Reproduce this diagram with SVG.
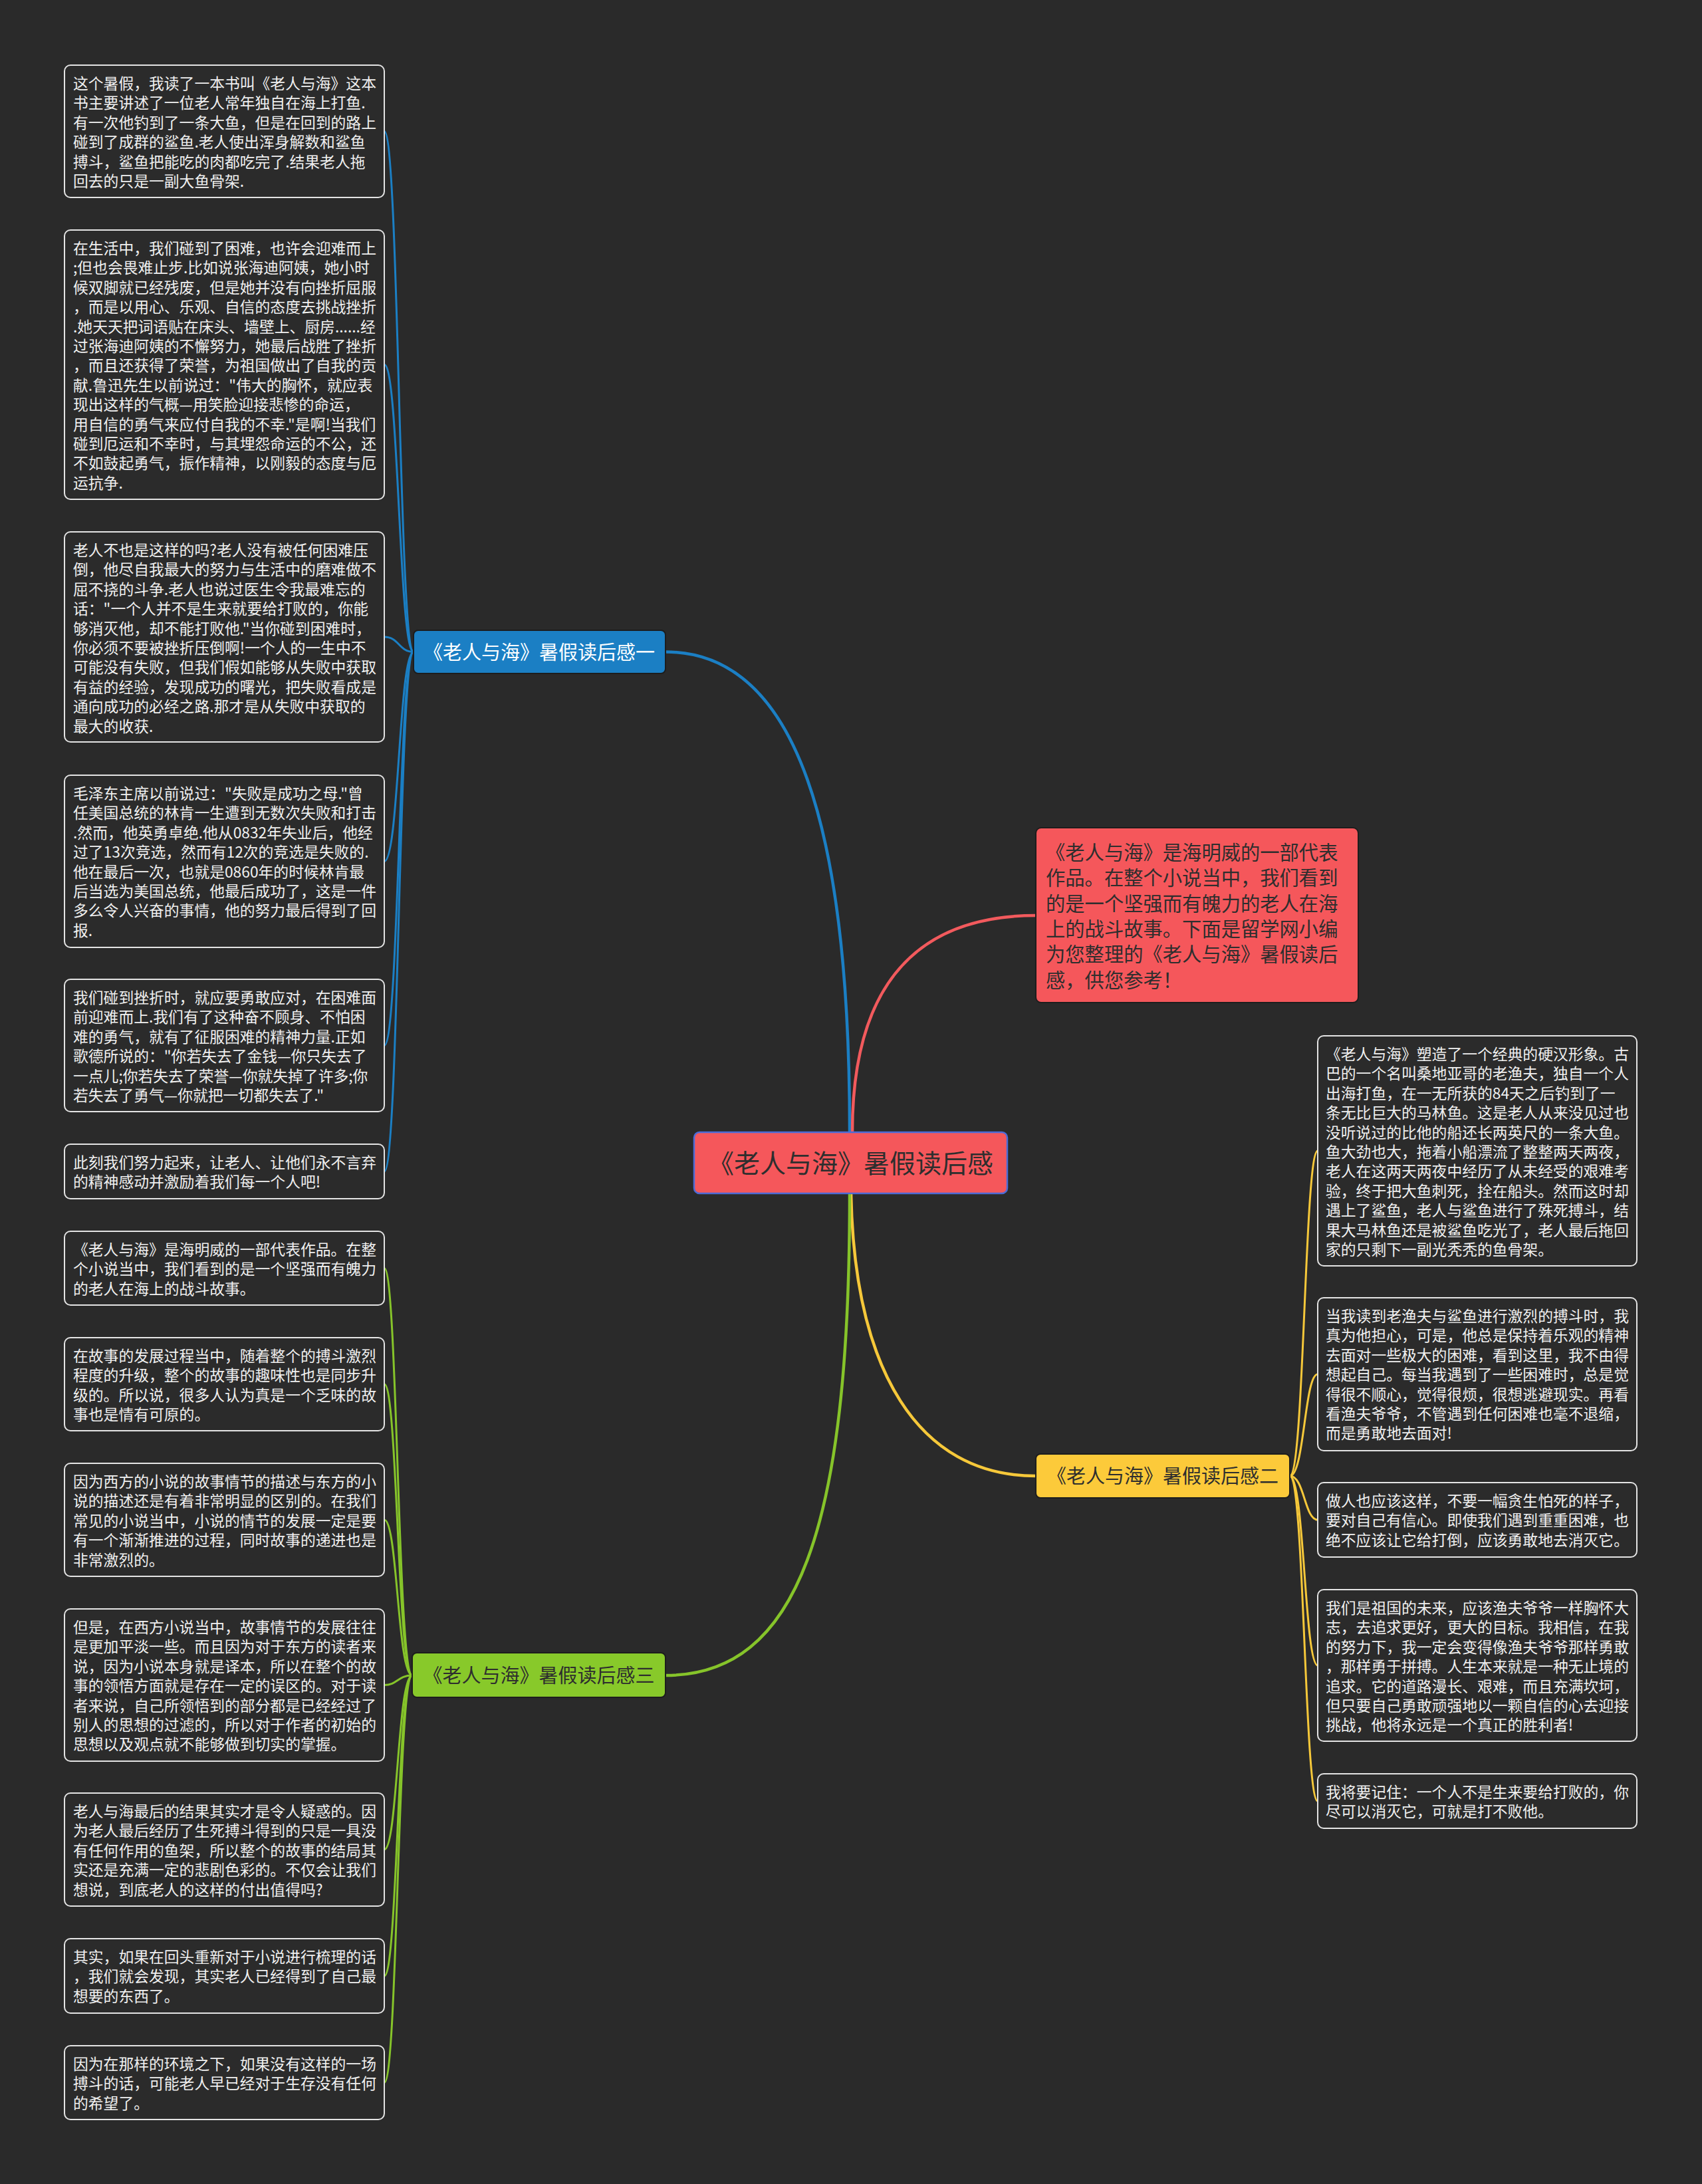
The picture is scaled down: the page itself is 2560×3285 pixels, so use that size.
<svg xmlns="http://www.w3.org/2000/svg" width="2560" height="3285" viewBox="0 0 2560 3285">
<style>
.leaf rect{fill:#2b2b2b;stroke:#e4e4e4;stroke-width:2}
.leaf text{font-family:"Noto Sans CJK SC","Noto Sans",sans-serif;font-size:22.8px;fill:#f0f0f0}
.br text{font-family:"Noto Sans CJK SC","Noto Sans",sans-serif;font-size:29px;text-anchor:middle}
.br rect{stroke:#1d1d1d;stroke-width:2}
.c path{fill:none;stroke-linecap:round}
.cb{stroke:#1b7fc4}
.cr{stroke:#f25a5d}
.cy{stroke:#f6c83a}
.cg{stroke:#86c42a}
.thin{stroke-width:3}
.thick{stroke-width:4.5}
</style>
<rect x="0" y="0" width="2560" height="3285" fill="#2a2a2a"/>

<g id="connectors" class="c">
<path class="cb thick" d="M1278,1703 C1278,1250 1200,980.5 1001,980.5"/>
<path class="cr thick" d="M1282,1703 C1282,1480 1380,1377 1558,1377"/>
<path class="cy thick" d="M1280,1795 C1285,2060 1380,2220 1558,2220"/>
<path class="cg thick" d="M1278,1795 C1278,2300 1200,2520 1001,2520"/>
<path class="cb thin" d="M622,980.5 C600,980.5 600,197.5 578,197.5"/>
<path class="cb thin" d="M622,980.5 C600,980.5 600,548.5 578,548.5"/>
<path class="cb thin" d="M622,980.5 C600,980.5 600,958 578,958"/>
<path class="cb thin" d="M622,980.5 C600,980.5 600,1295.5 578,1295.5"/>
<path class="cb thin" d="M622,980.5 C600,980.5 600,1572.5 578,1572.5"/>
<path class="cb thin" d="M622,980.5 C600,980.5 600,1762 578,1762"/>
<path class="cg thin" d="M620,2520 C598,2520 598,1907.5 578,1907.5"/>
<path class="cg thin" d="M620,2520 C598,2520 598,2082 578,2082"/>
<path class="cg thin" d="M620,2520 C598,2520 598,2286 578,2286"/>
<path class="cg thin" d="M620,2520 C598,2520 598,2534.5 578,2534.5"/>
<path class="cg thin" d="M620,2520 C598,2520 598,2782 578,2782"/>
<path class="cg thin" d="M620,2520 C598,2520 598,2972 578,2972"/>
<path class="cg thin" d="M620,2520 C598,2520 598,3132.5 578,3132.5"/>
<path class="cy thin" d="M1940,2220 C1962,2220 1962,1731 1982,1731"/>
<path class="cy thin" d="M1940,2220 C1962,2220 1962,2067 1982,2067"/>
<path class="cy thin" d="M1940,2220 C1962,2220 1962,2286 1982,2286"/>
<path class="cy thin" d="M1940,2220 C1962,2220 1962,2505 1982,2505"/>
<path class="cy thin" d="M1940,2220 C1962,2220 1962,2709 1982,2709"/>
</g>

<g id="root">
<rect x="1044" y="1703" width="471" height="92" rx="8" fill="#f5575b" stroke="#4d6bd6" stroke-width="2.5"/>
<text x="1279.5" y="1764" font-family="Noto Sans CJK SC, Noto Sans, sans-serif" font-size="39" fill="#2e2e2e" text-anchor="middle">《老人与海》暑假读后感</text>
</g>

<g id="intro">
<rect x="1558" y="1245" width="485" height="263" rx="8" fill="#f5575b" stroke="#1d1d1d" stroke-width="2"/>
<text font-family="Noto Sans CJK SC, Noto Sans, sans-serif" font-size="29.3" fill="#2e2e2e">
<tspan x="1573" y="1293">《老人与海》是海明威的一部代表</tspan>
<tspan x="1573" dy="38.3">作品。在整个小说当中，我们看到</tspan>
<tspan x="1573" dy="38.3">的是一个坚强而有魄力的老人在海</tspan>
<tspan x="1573" dy="38.3">上的战斗故事。下面是留学网小编</tspan>
<tspan x="1573" dy="38.3">为您整理的《老人与海》暑假读后</tspan>
<tspan x="1573" dy="38.3">感，供您参考！</tspan>
</text>
</g>

<g id="branch1" class="br">
<rect x="622" y="948" width="379" height="65" rx="7" fill="#1b7fc4"/>
<text x="811" y="991.5" fill="#ffffff">《老人与海》暑假读后感一</text>
</g>
<g id="branch2" class="br">
<rect x="1558" y="2187" width="382" height="66" rx="7" fill="#fcca3a"/>
<text x="1749" y="2231" fill="#2e2e2e">《老人与海》暑假读后感二</text>
</g>
<g id="branch3" class="br">
<rect x="620" y="2486" width="381" height="67" rx="7" fill="#88c92a"/>
<text x="810.5" y="2530.5" fill="#2e2e2e">《老人与海》暑假读后感三</text>
</g>

<g id="l1" class="leaf">
<rect x="97" y="98" width="481" height="199" rx="9"/>
<text><tspan x="110" y="134">这个暑假，我读了一本书叫《老人与海》这本</tspan><tspan x="110" dy="29.4">书主要讲述了一位老人常年独自在海上打鱼.</tspan><tspan x="110" dy="29.4">有一次他钓到了一条大鱼，但是在回到的路上</tspan><tspan x="110" dy="29.4">碰到了成群的鲨鱼.老人使出浑身解数和鲨鱼</tspan><tspan x="110" dy="29.4">搏斗，鲨鱼把能吃的肉都吃完了.结果老人拖</tspan><tspan x="110" dy="29.4">回去的只是一副大鱼骨架.</tspan></text>
</g>
<g id="l2" class="leaf">
<rect x="97" y="346" width="481" height="405" rx="9"/>
<text><tspan x="110" y="382">在生活中，我们碰到了困难，也许会迎难而上</tspan><tspan x="110" dy="29.4">;但也会畏难止步.比如说张海迪阿姨，她小时</tspan><tspan x="110" dy="29.4">候双脚就已经残废，但是她并没有向挫折屈服</tspan><tspan x="110" dy="29.4">，而是以用心、乐观、自信的态度去挑战挫折</tspan><tspan x="110" dy="29.4">.她天天把词语贴在床头、墙壁上、厨房......经</tspan><tspan x="110" dy="29.4">过张海迪阿姨的不懈努力，她最后战胜了挫折</tspan><tspan x="110" dy="29.4">，而且还获得了荣誉，为祖国做出了自我的贡</tspan><tspan x="110" dy="29.4">献.鲁迅先生以前说过："伟大的胸怀，就应表</tspan><tspan x="110" dy="29.4">现出这样的气概—用笑脸迎接悲惨的命运，</tspan><tspan x="110" dy="29.4">用自信的勇气来应付自我的不幸."是啊!当我们</tspan><tspan x="110" dy="29.4">碰到厄运和不幸时，与其埋怨命运的不公，还</tspan><tspan x="110" dy="29.4">不如鼓起勇气，振作精神，以刚毅的态度与厄</tspan><tspan x="110" dy="29.4">运抗争.</tspan></text>
</g>
<g id="l3" class="leaf">
<rect x="97" y="800" width="481" height="316" rx="9"/>
<text><tspan x="110" y="836">老人不也是这样的吗?老人没有被任何困难压</tspan><tspan x="110" dy="29.4">倒，他尽自我最大的努力与生活中的磨难做不</tspan><tspan x="110" dy="29.4">屈不挠的斗争.老人也说过医生令我最难忘的</tspan><tspan x="110" dy="29.4">话："一个人并不是生来就要给打败的，你能</tspan><tspan x="110" dy="29.4">够消灭他，却不能打败他."当你碰到困难时，</tspan><tspan x="110" dy="29.4">你必须不要被挫折压倒啊!一个人的一生中不</tspan><tspan x="110" dy="29.4">可能没有失败，但我们假如能够从失败中获取</tspan><tspan x="110" dy="29.4">有益的经验，发现成功的曙光，把失败看成是</tspan><tspan x="110" dy="29.4">通向成功的必经之路.那才是从失败中获取的</tspan><tspan x="110" dy="29.4">最大的收获.</tspan></text>
</g>
<g id="l4" class="leaf">
<rect x="97" y="1166" width="481" height="259" rx="9"/>
<text><tspan x="110" y="1202">毛泽东主席以前说过："失败是成功之母."曾</tspan><tspan x="110" dy="29.4">任美国总统的林肯一生遭到无数次失败和打击</tspan><tspan x="110" dy="29.4">.然而，他英勇卓绝.他从0832年失业后，他经</tspan><tspan x="110" dy="29.4">过了13次竞选，然而有12次的竞选是失败的.</tspan><tspan x="110" dy="29.4">他在最后一次，也就是0860年的时候林肯最</tspan><tspan x="110" dy="29.4">后当选为美国总统，他最后成功了，这是一件</tspan><tspan x="110" dy="29.4">多么令人兴奋的事情，他的努力最后得到了回</tspan><tspan x="110" dy="29.4">报.</tspan></text>
</g>
<g id="l5" class="leaf">
<rect x="97" y="1473" width="481" height="199" rx="9"/>
<text><tspan x="110" y="1509">我们碰到挫折时，就应要勇敢应对，在困难面</tspan><tspan x="110" dy="29.4">前迎难而上.我们有了这种奋不顾身、不怕困</tspan><tspan x="110" dy="29.4">难的勇气，就有了征服困难的精神力量.正如</tspan><tspan x="110" dy="29.4">歌德所说的："你若失去了金钱—你只失去了</tspan><tspan x="110" dy="29.4">一点儿;你若失去了荣誉—你就失掉了许多;你</tspan><tspan x="110" dy="29.4">若失去了勇气—你就把一切都失去了."</tspan></text>
</g>
<g id="l6" class="leaf">
<rect x="97" y="1721" width="481" height="82" rx="9"/>
<text><tspan x="110" y="1757">此刻我们努力起来，让老人、让他们永不言弃</tspan><tspan x="110" dy="29.4">的精神感动并激励着我们每一个人吧!</tspan></text>
</g>
<g id="l7" class="leaf">
<rect x="97" y="1852" width="481" height="111" rx="9"/>
<text><tspan x="110" y="1888">《老人与海》是海明威的一部代表作品。在整</tspan><tspan x="110" dy="29.4">个小说当中，我们看到的是一个坚强而有魄力</tspan><tspan x="110" dy="29.4">的老人在海上的战斗故事。</tspan></text>
</g>
<g id="l8" class="leaf">
<rect x="97" y="2012" width="481" height="140" rx="9"/>
<text><tspan x="110" y="2048">在故事的发展过程当中，随着整个的搏斗激烈</tspan><tspan x="110" dy="29.4">程度的升级，整个的故事的趣味性也是同步升</tspan><tspan x="110" dy="29.4">级的。所以说，很多人认为真是一个乏味的故</tspan><tspan x="110" dy="29.4">事也是情有可原的。</tspan></text>
</g>
<g id="l9" class="leaf">
<rect x="97" y="2201" width="481" height="170" rx="9"/>
<text><tspan x="110" y="2237">因为西方的小说的故事情节的描述与东方的小</tspan><tspan x="110" dy="29.4">说的描述还是有着非常明显的区别的。在我们</tspan><tspan x="110" dy="29.4">常见的小说当中，小说的情节的发展一定是要</tspan><tspan x="110" dy="29.4">有一个渐渐推进的过程，同时故事的递进也是</tspan><tspan x="110" dy="29.4">非常激烈的。</tspan></text>
</g>
<g id="l10" class="leaf">
<rect x="97" y="2420" width="481" height="229" rx="9"/>
<text><tspan x="110" y="2456">但是，在西方小说当中，故事情节的发展往往</tspan><tspan x="110" dy="29.4">是更加平淡一些。而且因为对于东方的读者来</tspan><tspan x="110" dy="29.4">说，因为小说本身就是译本，所以在整个的故</tspan><tspan x="110" dy="29.4">事的领悟方面就是存在一定的误区的。对于读</tspan><tspan x="110" dy="29.4">者来说，自己所领悟到的部分都是已经经过了</tspan><tspan x="110" dy="29.4">别人的思想的过滤的，所以对于作者的初始的</tspan><tspan x="110" dy="29.4">思想以及观点就不能够做到切实的掌握。</tspan></text>
</g>
<g id="l11" class="leaf">
<rect x="97" y="2697" width="481" height="170" rx="9"/>
<text><tspan x="110" y="2733">老人与海最后的结果其实才是令人疑惑的。因</tspan><tspan x="110" dy="29.4">为老人最后经历了生死搏斗得到的只是一具没</tspan><tspan x="110" dy="29.4">有任何作用的鱼架，所以整个的故事的结局其</tspan><tspan x="110" dy="29.4">实还是充满一定的悲剧色彩的。不仅会让我们</tspan><tspan x="110" dy="29.4">想说，到底老人的这样的付出值得吗?</tspan></text>
</g>
<g id="l12" class="leaf">
<rect x="97" y="2916" width="481" height="112" rx="9"/>
<text><tspan x="110" y="2952">其实，如果在回头重新对于小说进行梳理的话</tspan><tspan x="110" dy="29.4">，我们就会发现，其实老人已经得到了自己最</tspan><tspan x="110" dy="29.4">想要的东西了。</tspan></text>
</g>
<g id="l13" class="leaf">
<rect x="97" y="3077" width="481" height="111" rx="9"/>
<text><tspan x="110" y="3113">因为在那样的环境之下，如果没有这样的一场</tspan><tspan x="110" dy="29.4">搏斗的话，可能老人早已经对于生存没有任何</tspan><tspan x="110" dy="29.4">的希望了。</tspan></text>
</g>

<g id="r1" class="leaf">
<rect x="1982" y="1558" width="480" height="346" rx="9"/>
<text><tspan x="1994" y="1594">《老人与海》塑造了一个经典的硬汉形象。古</tspan><tspan x="1994" dy="29.4">巴的一个名叫桑地亚哥的老渔夫，独自一个人</tspan><tspan x="1994" dy="29.4">出海打鱼，在一无所获的84天之后钓到了一</tspan><tspan x="1994" dy="29.4">条无比巨大的马林鱼。这是老人从来没见过也</tspan><tspan x="1994" dy="29.4">没听说过的比他的船还长两英尺的一条大鱼。</tspan><tspan x="1994" dy="29.4">鱼大劲也大，拖着小船漂流了整整两天两夜，</tspan><tspan x="1994" dy="29.4">老人在这两天两夜中经历了从未经受的艰难考</tspan><tspan x="1994" dy="29.4">验，终于把大鱼刺死，拴在船头。然而这时却</tspan><tspan x="1994" dy="29.4">遇上了鲨鱼，老人与鲨鱼进行了殊死搏斗，结</tspan><tspan x="1994" dy="29.4">果大马林鱼还是被鲨鱼吃光了，老人最后拖回</tspan><tspan x="1994" dy="29.4">家的只剩下一副光秃秃的鱼骨架。</tspan></text>
</g>
<g id="r2" class="leaf">
<rect x="1982" y="1952" width="480" height="230" rx="9"/>
<text><tspan x="1994" y="1988">当我读到老渔夫与鲨鱼进行激烈的搏斗时，我</tspan><tspan x="1994" dy="29.4">真为他担心，可是，他总是保持着乐观的精神</tspan><tspan x="1994" dy="29.4">去面对一些极大的困难，看到这里，我不由得</tspan><tspan x="1994" dy="29.4">想起自己。每当我遇到了一些困难时，总是觉</tspan><tspan x="1994" dy="29.4">得很不顺心，觉得很烦，很想逃避现实。再看</tspan><tspan x="1994" dy="29.4">看渔夫爷爷，不管遇到任何困难也毫不退缩，</tspan><tspan x="1994" dy="29.4">而是勇敢地去面对!</tspan></text>
</g>
<g id="r3" class="leaf">
<rect x="1982" y="2230" width="480" height="112" rx="9"/>
<text><tspan x="1994" y="2266">做人也应该这样，不要一幅贪生怕死的样子，</tspan><tspan x="1994" dy="29.4">要对自己有信心。即使我们遇到重重困难，也</tspan><tspan x="1994" dy="29.4">绝不应该让它给打倒，应该勇敢地去消灭它。</tspan></text>
</g>
<g id="r4" class="leaf">
<rect x="1982" y="2391" width="480" height="228" rx="9"/>
<text><tspan x="1994" y="2427">我们是祖国的未来，应该渔夫爷爷一样胸怀大</tspan><tspan x="1994" dy="29.4">志，去追求更好，更大的目标。我相信，在我</tspan><tspan x="1994" dy="29.4">的努力下，我一定会变得像渔夫爷爷那样勇敢</tspan><tspan x="1994" dy="29.4">，那样勇于拼搏。人生本来就是一种无止境的</tspan><tspan x="1994" dy="29.4">追求。它的道路漫长、艰难，而且充满坎坷，</tspan><tspan x="1994" dy="29.4">但只要自己勇敢顽强地以一颗自信的心去迎接</tspan><tspan x="1994" dy="29.4">挑战，他将永远是一个真正的胜利者!</tspan></text>
</g>
<g id="r5" class="leaf">
<rect x="1982" y="2668" width="480" height="82" rx="9"/>
<text><tspan x="1994" y="2704">我将要记住：一个人不是生来要给打败的，你</tspan><tspan x="1994" dy="29.4">尽可以消灭它，可就是打不败他。</tspan></text>
</g>
</svg>
